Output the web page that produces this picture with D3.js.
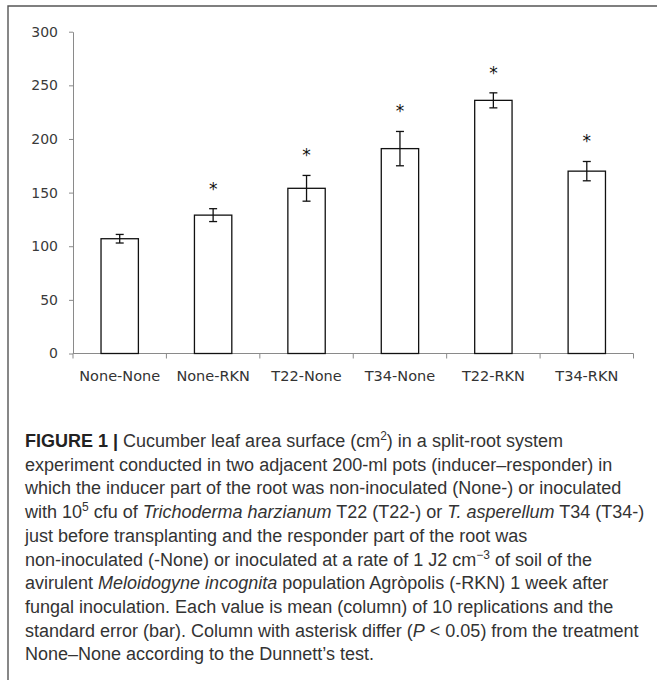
<!DOCTYPE html>
<html lang="en">
<head>
  <meta charset="UTF-8">
  <title>Cucumber leaf area surface</title>
  <script src="https://d3js.org/d3.v7.min.js"></script>
  <style>
    body { margin: 0; background: #fff; }
    svg { display: block; }
  </style>
</head>
<body>
  <div id="chart"></div>

  <script>
    const categories = ["None-None", "None-RKN", "T22-None", "T34-None", "T22-RKN", "T34-RKN"];
    const means      = [107, 129, 154, 191, 236, 170];
    const errors     = [4, 6, 12, 16, 7, 9];
    const signif     = [false, true, true, true, true, true];
    const yTicks     = [0, 50, 100, 150, 200, 250, 300];

    // caption lines, each a list of [text, style] pieces
    const captionLines = [
      [["FIGURE 1 |", "b"], [" Cucumber leaf area surface (cm", ""], ["2", "sup"], [") in a split-root system", ""]],
      [["experiment conducted in two adjacent 200-ml pots (inducer\u2013responder) in", ""]],
      [["which the inducer part of the root was non-inoculated (None-) or inoculated", ""]],
      [["with 10", ""], ["5", "sup"], [" cfu of ", ""], ["Trichoderma harzianum", "i"], [" T22 (T22-) or ", ""], ["T. asperellum", "i"], [" T34 (T34-)", ""]],
      [["just before transplanting and the responder part of the root was", ""]],
      [["non-inoculated (-None) or inoculated at a rate of 1 J2 cm", ""], ["\u22123", "sup"], [" of soil of the", ""]],
      [["avirulent ", ""], ["Meloidogyne incognita", "i"], [" population Agr\u00f2polis (-RKN) 1 week after", ""]],
      [["fungal inoculation. Each value is mean (column) of 10 replications and the", ""]],
      [["standard error (bar). Column with asterisk differ (", ""], ["P", "i"], [" < 0.05) from the treatment", ""]],
      [["None\u2013None according to the Dunnett\u2019s test.", ""]]
    ];

    const width = 657, height = 683;
    const plotLeft = 73, plotRight = 633.5, plotTop = 31.7, plotBottom = 353.5;

    const svg = d3.select("#chart").append("svg")
        .attr("width", width)
        .attr("height", height);

    // frame
    svg.append("path")
      .attr("d", `M8,680 V6 H${width}`)
      .attr("fill", "none")
      .attr("stroke", "#555")
      .attr("stroke-width", 1.4);

    const x = d3.scaleBand()
      .domain(categories)
      .range([plotLeft, plotRight])
      .paddingInner(0.6)
      .paddingOuter(0.3);

    const y = d3.scaleLinear()
      .domain([0, 300])
      .range([plotBottom, plotTop]);

    // y axis
    const yAxis = svg.append("g")
      .attr("transform", `translate(${plotLeft},0)`)
      .call(d3.axisLeft(y).tickValues(yTicks).tickSize(4).tickPadding(11).tickSizeOuter(0));
    yAxis.select(".domain").attr("stroke", "#8a8a8a");
    yAxis.selectAll(".tick line").attr("stroke", "#8a8a8a");
    yAxis.selectAll(".tick text")
      .attr("font-family", "DejaVu Sans, Verdana, sans-serif")
      .attr("font-size", 14)
      .attr("fill", "#3a3a3a");

    // x axis with ticks between categories
    const step = x.step();
    const bounds = d3.range(categories.length + 1).map(i => plotLeft + i * step);
    const xAxis = svg.append("g");
    xAxis.append("line")
      .attr("x1", plotLeft).attr("x2", bounds[bounds.length - 1])
      .attr("y1", y(0)).attr("y2", y(0))
      .attr("stroke", "#8a8a8a");
    xAxis.selectAll(".xt")
      .data(bounds)
      .join("line")
      .attr("class", "xt")
      .attr("x1", d => d).attr("x2", d => d)
      .attr("y1", y(0)).attr("y2", y(0) + 5)
      .attr("stroke", "#8a8a8a");
    xAxis.selectAll(".xl")
      .data(categories)
      .join("text")
      .attr("class", "xl")
      .attr("x", d => x(d) + x.bandwidth() / 2)
      .attr("y", 381)
      .attr("text-anchor", "middle")
      .attr("font-family", "DejaVu Sans, Verdana, sans-serif")
      .attr("font-size", 14.5)
      .attr("fill", "#333")
      .text(d => d);

    const data = categories.map((c, i) => ({ c, m: means[i], e: errors[i], s: signif[i] }));

    // bars
    svg.append("g")
      .selectAll("rect")
      .data(data)
      .join("rect")
      .attr("x", d => x(d.c))
      .attr("y", d => y(d.m))
      .attr("width", x.bandwidth())
      .attr("height", d => y(0) - y(d.m))
      .attr("fill", "#fff")
      .attr("stroke", "#111")
      .attr("stroke-width", 1.3);

    // error bars
    const cap = 4;
    const eb = svg.append("g")
      .attr("stroke", "#111")
      .attr("stroke-width", 1.3);
    eb.selectAll(".v")
      .data(data)
      .join("line")
      .attr("class", "v")
      .attr("x1", d => x(d.c) + x.bandwidth() / 2)
      .attr("x2", d => x(d.c) + x.bandwidth() / 2)
      .attr("y1", d => y(d.m + d.e))
      .attr("y2", d => y(d.m - d.e));
    eb.selectAll(".t")
      .data(data)
      .join("line")
      .attr("class", "t")
      .attr("x1", d => x(d.c) + x.bandwidth() / 2 - cap)
      .attr("x2", d => x(d.c) + x.bandwidth() / 2 + cap)
      .attr("y1", d => y(d.m + d.e))
      .attr("y2", d => y(d.m + d.e));
    eb.selectAll(".b")
      .data(data)
      .join("line")
      .attr("class", "b")
      .attr("x1", d => x(d.c) + x.bandwidth() / 2 - cap)
      .attr("x2", d => x(d.c) + x.bandwidth() / 2 + cap)
      .attr("y1", d => y(d.m - d.e))
      .attr("y2", d => y(d.m - d.e));

    // asterisks
    svg.append("g")
      .selectAll("text")
      .data(data.filter(d => d.s))
      .join("text")
      .attr("x", d => x(d.c) + x.bandwidth() / 2)
      .attr("y", d => y(d.m + d.e) - 14)
      .attr("text-anchor", "middle")
      .attr("font-family", "DejaVu Sans, sans-serif")
      .attr("font-size", 17)
      .attr("fill", "#111")
      .text("*");

    // caption
    const cap0 = 447, lineH = 23.7;
    const caption = svg.append("g")
      .attr("font-family", "Liberation Sans, Arial, sans-serif")
      .attr("font-size", 18)
      .attr("fill", "#333");

    captionLines.forEach((parts, li) => {
      const t = caption.append("text")
        .attr("x", 25)
        .attr("y", cap0 + li * lineH);
      let raised = false;
      parts.forEach(([txt, st]) => {
        const ts = t.append("tspan").text(txt);
        if (st === "b") ts.attr("font-weight", "bold").attr("fill", "#222");
        if (st === "i") ts.attr("font-style", "italic");
        if (st === "sup") {
          ts.attr("font-size", 12).attr("dy", -7);
          raised = true;
        } else if (raised) {
          ts.attr("dy", 7);
          raised = false;
        }
      });
    });
  </script>
</body>
</html>
